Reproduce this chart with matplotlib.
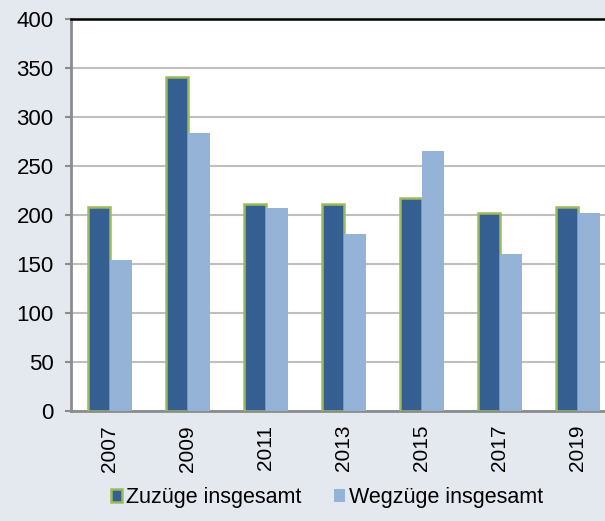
import matplotlib
matplotlib.use('Agg')
import matplotlib.pyplot as plt
from matplotlib.patches import Patch
import numpy as np

plt.rcParams['font.family'] = ['Liberation Sans', 'DejaVu Sans']

years = ['2007', '2009', '2011', '2013', '2015', '2017', '2019']
zuzuege = [208, 341, 211, 211, 217, 202, 208]
wegzuege = [154, 284, 207, 181, 265, 160, 202]

bg = '#E4E8EF'
dark_blue = '#355F91'
light_blue = '#95B3D7'
green = '#9BBB59'

fig = plt.figure(figsize=(6.05, 5.21), dpi=100, facecolor=bg)
ax = fig.add_axes([71/605, 1 - 411/521, 546/605, 392/521])
ax.set_facecolor('white')

x = np.arange(len(years))
w = 0.285
ax.bar(x - w/2, zuzuege, w, color=dark_blue, edgecolor=green, linewidth=1.8, zorder=3)
ax.bar(x + w/2, wegzuege, w, color=light_blue, zorder=3)

ax.set_ylim(0, 400)
ax.set_xlim(-0.5, len(years) - 0.5)
ax.set_yticks(np.arange(0, 401, 50))
ax.set_xticks(x)
ax.set_xticklabels(years, rotation=90, fontsize=15)
ax.tick_params(axis='x', length=0, pad=10)
ax.tick_params(axis='y', direction='out', length=4.5, width=1.5, color='#8C8C8C', pad=8, labelsize=16)

ax.grid(axis='y', color='#BFBFBF', linewidth=1.5, zorder=0)
ax.spines['top'].set_color('black')
ax.spines['top'].set_linewidth(1.8)
ax.spines['left'].set_color('#8C8C8C')
ax.spines['left'].set_linewidth(2)
ax.spines['bottom'].set_color('#8C8C8C')
ax.spines['bottom'].set_linewidth(2)
ax.spines['right'].set_visible(False)

handles = [Patch(facecolor=dark_blue, edgecolor=green, linewidth=1.8),
           Patch(facecolor=light_blue, edgecolor='none')]
fig.legend(handles, ['Zuzüge insgesamt', 'Wegzüge insgesamt'], loc='center',
           bbox_to_anchor=(327/605, 1 - 498/521), ncol=2, frameon=False,
           fontsize=15.5, handlelength=0.5, handleheight=0.55, handletextpad=0.2,
           columnspacing=1.5)

fig.savefig('out.png', dpi=100, facecolor=bg)
